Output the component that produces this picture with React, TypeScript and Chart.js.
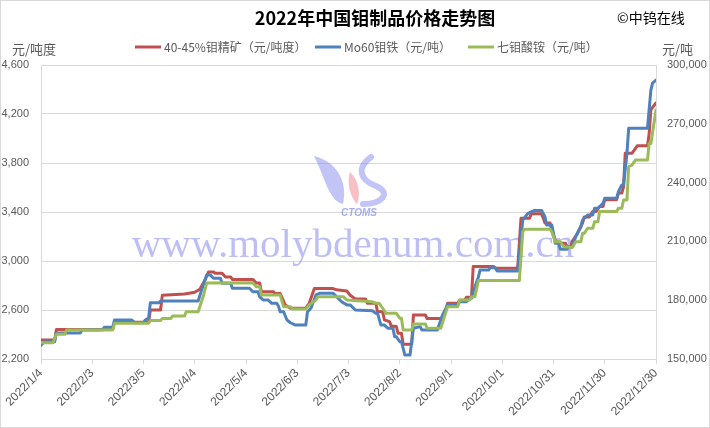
import React, { useEffect, useRef } from "react";
import { Chart, registerables } from "chart.js";

Chart.register(...registerables);

// ---------- data ----------
const chartTitle = "2022年中国钼制品价格走势图";
const copyrightText = "©中钨在线";
const watermarkText = "www.molybdenum.com.cn";
const logoText = "CTOMS";
const leftUnit = "元/吨度";
const rightUnit = "元/吨";
const seriesNames = ["40-45%钼精矿（元/吨度）", "Mo60钼铁（元/吨）", "七钼酸铵（元/吨）"];
const seriesColors = ["#C0504D", "#4F81BD", "#9BBB59"];

// x ticks: days after 2022/1/4
const xTickDays = [0, 30, 60, 90, 120, 150, 180, 210, 240, 270, 300, 330, 360];
const xTickLabels = [
  "2022/1/4", "2022/2/3", "2022/3/5", "2022/4/4", "2022/5/4", "2022/6/3", "2022/7/3",
  "2022/8/2", "2022/9/1", "2022/10/1", "2022/10/31", "2022/11/30", "2022/12/30",
];
const leftTicks = [2200, 2600, 3000, 3400, 3800, 4200, 4600];
const rightTicks = [150000, 180000, 210000, 240000, 270000, 300000];

// 40-45% molybdenum concentrate (left axis, yuan/ton-degree)
const concDays = [0,8,9,42,43,63,64,70,71,84,90,93,96,98,101,102,106,108,111,112,124,126,128,129,136,137,140,143,146,155,157,160,171,173,179,181,184,190,191,196,197,200,201,204,205,208,209,211,212,217,218,225,226,235,237,238,244,245,248,249,252,253,265,266,279,281,286,287,293,294,295,298,299,301,303,307,308,310,311,314,317,318,321,323,325,327,329,330,337,338,340,341,342,346,348,349,355,356,357,360];
const concValues = [2355,2355,2440,2440,2500,2500,2600,2600,2720,2730,2745,2770,2845,2910,2910,2900,2900,2870,2870,2850,2850,2820,2820,2750,2750,2735,2735,2640,2615,2615,2655,2775,2775,2765,2755,2720,2690,2690,2655,2655,2585,2585,2520,2505,2470,2465,2410,2410,2320,2320,2560,2560,2530,2530,2600,2655,2655,2680,2680,2705,2705,2955,2955,2940,2940,3350,3350,3385,3385,3350,3310,3310,3255,3170,3145,3145,3115,3115,3160,3225,3310,3360,3360,3405,3405,3445,3445,3500,3500,3555,3555,3605,3880,3880,3920,3940,3940,4040,4235,4290];

// Mo60 ferro molybdenum (right axis, yuan/ton)
const feMoDays = [0,2,8,9,23,24,36,37,42,43,53,55,60,61,63,64,69,70,92,94,97,99,101,105,106,111,112,122,124,127,128,130,133,135,138,139,140,142,144,146,149,155,156,158,161,163,171,173,176,179,181,184,194,196,197,199,201,203,206,207,208,210,211,213,216,218,222,223,232,233,235,238,244,245,249,251,252,254,256,257,262,263,266,267,279,280,282,285,289,293,295,296,299,300,301,303,304,308,309,311,313,316,317,320,323,324,326,329,330,337,338,340,341,343,344,355,357,358,360];
const feMoValues = [157100,158800,158800,163300,163300,164800,164800,166200,166200,169900,169900,168500,168500,169900,170900,178700,178700,179600,179600,185200,192900,192900,191200,191200,188600,188600,186100,186100,184300,184300,181800,180100,180100,178400,178400,177000,174100,174100,169900,168500,167300,167300,174100,175900,182700,183500,183500,181800,179200,177600,177600,175000,174600,173300,173300,167300,167300,165700,165700,161400,161400,158800,158800,152000,152000,165700,166500,164800,164800,167300,172400,177600,177600,179200,179200,181000,181000,186900,191700,195400,195400,196600,196600,194900,194900,203100,220900,224300,225800,225800,222600,218400,218400,214100,209000,209000,206000,206000,207300,207300,212400,217500,220900,223500,223500,226900,226900,229400,232000,232000,235400,238800,238800,254900,267700,267700,287200,290800,292300];

// Ammonium heptamolybdate (right axis, yuan/ton)
const ahmDays = [0,7,9,14,15,42,43,63,64,70,71,76,77,84,85,92,95,97,124,126,128,129,140,142,146,147,155,157,161,162,177,179,194,196,198,200,202,208,210,211,212,217,218,225,226,234,235,238,244,245,251,252,254,256,280,282,283,298,299,301,304,306,311,313,316,317,318,320,323,324,326,327,337,338,340,341,343,344,346,348,355,356,357,360];
const ahmValues = [158300,158300,162600,162600,164800,164800,168200,168200,169600,169600,170700,170700,171900,171900,174100,174100,182100,188800,188900,186900,186900,182700,182700,176700,176700,175500,175500,177600,180100,181800,181800,180100,179200,178400,178400,175900,173300,173300,170800,170800,164800,164800,167900,167900,165700,165700,168400,176700,176700,180100,180100,181800,181800,190000,190000,214900,216200,216200,214900,209800,209800,207300,206900,209800,209800,214100,214100,216700,216700,220000,220000,225200,225200,226900,226900,231100,231100,248100,249000,251500,251500,260000,260000,277000];

// ---------- styling ----------
const GRID = "#d9d9d9";
const TXT = "#595959";
const CJK = '"Noto Sans CJK SC", "Noto Sans", sans-serif';
const NUM = '"Liberation Sans", Arial, sans-serif';

const toPoints = (days: number[], vals: number[]) => days.map((d, i) => ({ x: d, y: vals[i] }));
const fmt = (v: number) => Number(v).toLocaleString("en-US");

const decorPlugin = {
  id: "decor",
  beforeDraw(chart: any) {
    const { ctx, width, height } = chart;
    ctx.save();
    ctx.fillStyle = "#ffffff";
    ctx.fillRect(0, 0, width, height);
    ctx.restore();
  },
  beforeDatasetsDraw(chart: any) {
    const ctx = chart.ctx as CanvasRenderingContext2D;
    ctx.save();
    // logo: left swoosh
    ctx.fillStyle = "rgba(120,125,235,0.45)";
    ctx.beginPath();
    ctx.moveTo(314, 156);
    ctx.bezierCurveTo(338, 162, 348, 183, 343, 204);
    ctx.bezierCurveTo(329, 201, 326, 180, 314, 156);
    ctx.fill();
    // pink middle
    ctx.fillStyle = "rgba(240,140,150,0.55)";
    ctx.beginPath();
    ctx.moveTo(350, 172);
    ctx.bezierCurveTo(359, 180, 361, 195, 357, 204);
    ctx.bezierCurveTo(351, 198, 346, 184, 350, 172);
    ctx.fill();
    // right swoosh
    ctx.strokeStyle = "rgba(120,125,235,0.45)";
    ctx.lineWidth = 6;
    ctx.lineCap = "round";
    ctx.beginPath();
    ctx.moveTo(371, 157);
    ctx.bezierCurveTo(356, 168, 360, 180, 376, 186);
    ctx.bezierCurveTo(392, 193, 382, 204, 363, 204);
    ctx.stroke();
    ctx.font = 'italic bold 10px "Liberation Sans", sans-serif';
    ctx.fillStyle = "rgba(120,130,235,0.65)";
    ctx.textAlign = "center";
    ctx.textBaseline = "alphabetic";
    ctx.fillText(logoText, 359, 216);
    // watermark
    ctx.font = '41px "Liberation Serif", "DejaVu Serif", serif';
    ctx.fillStyle = "rgba(110,110,235,0.45)";
    ctx.fillText(watermarkText, 353, 257);
    ctx.restore();
  },
  afterDraw(chart: any) {
    const ctx = chart.ctx as CanvasRenderingContext2D;
    ctx.save();
    // title
    ctx.fillStyle = "#000000";
    ctx.textBaseline = "middle";
    ctx.textAlign = "center";
    ctx.font = `bold 18px ${CJK}`;
    ctx.fillText(chartTitle, 375, 18);
    ctx.textAlign = "left";
    ctx.font = `14px ${CJK}`;
    ctx.fillText(copyrightText, 617, 18);
    // units
    ctx.fillStyle = TXT;
    ctx.font = `13px ${CJK}`;
    ctx.fillText(leftUnit, 12, 49);
    ctx.fillText(rightUnit, 662, 49);
    // legend
    const lx = [135, 315, 468];
    ctx.font = `12px ${CJK}`;
    seriesNames.forEach((name, i) => {
      ctx.strokeStyle = seriesColors[i];
      ctx.lineWidth = 3;
      ctx.beginPath();
      ctx.moveTo(lx[i], 47);
      ctx.lineTo(lx[i] + 26, 47);
      ctx.stroke();
      ctx.fillStyle = TXT;
      ctx.fillText(name, lx[i] + 29, 47);
    });
    // outer border
    ctx.strokeStyle = GRID;
    ctx.lineWidth = 1;
    ctx.strokeRect(0.5, 0.5, chart.width - 1, chart.height - 1);
    ctx.restore();
  },
};

export default function App() {
  const ref = useRef<HTMLCanvasElement | null>(null);

  useEffect(() => {
    document.body.style.margin = "0";
    const canvas = ref.current;
    if (!canvas) return;
    const lineDs = (idx: number, data: any[], axis: string, order: number) => ({
      label: seriesNames[idx],
      data,
      yAxisID: axis,
      borderColor: seriesColors[idx],
      backgroundColor: seriesColors[idx],
      borderWidth: 3,
      pointRadius: 0,
      tension: 0,
      fill: false,
      borderJoinStyle: "round" as const,
      borderCapStyle: "round" as const,
      order,
    });
    const chart = new Chart(canvas, {
      type: "line",
      data: {
        datasets: [
          lineDs(0, toPoints(concDays, concValues), "y", 2),
          lineDs(1, toPoints(feMoDays, feMoValues), "y1", 1),
          lineDs(2, toPoints(ahmDays, ahmValues), "y1", 0),
        ],
      },
      options: {
        responsive: false,
        animation: false,
        devicePixelRatio: 1,
        layout: { padding: { top: 65, left: 0, right: 0, bottom: 0 } },
        plugins: {
          legend: { display: false },
          title: { display: false },
          tooltip: { enabled: false },
        },
        scales: {
          x: {
            type: "linear",
            min: xTickDays[0],
            max: xTickDays[xTickDays.length - 1],
            afterBuildTicks: (s: any) => {
              s.ticks = xTickDays.map((v) => ({ value: v }));
            },
            afterFit: (s: any) => {
              s.height = 69;
            },
            ticks: {
              autoSkip: false,
              maxRotation: 45,
              minRotation: 45,
              padding: 2,
              color: TXT,
              font: { family: NUM, size: 12 },
              callback: (v: any) => {
                const i = xTickDays.indexOf(Number(v));
                return i >= 0 ? xTickLabels[i] : "";
              },
            },
            grid: { drawOnChartArea: false, drawTicks: true, tickLength: 5, color: GRID },
            border: { color: GRID },
          },
          y: {
            position: "left",
            min: leftTicks[0],
            max: leftTicks[leftTicks.length - 1],
            afterBuildTicks: (s: any) => {
              s.ticks = leftTicks.map((v) => ({ value: v }));
            },
            afterFit: (s: any) => {
              s.width = 41;
            },
            ticks: {
              padding: 12,
              color: TXT,
              font: { family: NUM, size: 11 },
              callback: (v: any) => fmt(v),
            },
            grid: { color: GRID, drawTicks: false },
            border: { color: GRID },
          },
          y1: {
            position: "right",
            min: rightTicks[0],
            max: rightTicks[rightTicks.length - 1],
            afterBuildTicks: (s: any) => {
              s.ticks = rightTicks.map((v) => ({ value: v }));
            },
            afterFit: (s: any) => {
              s.width = 54;
            },
            ticks: {
              padding: 11,
              color: TXT,
              font: { family: NUM, size: 11 },
              callback: (v: any) => fmt(v),
            },
            grid: { drawOnChartArea: false, drawTicks: false },
            border: { color: GRID },
          },
        },
      },
      plugins: [decorPlugin],
    });
    return () => chart.destroy();
  }, []);

  return (
    <div style={{ position: "absolute", left: 0, top: 0, width: 710, height: 428 }}>
      <canvas ref={ref} width={710} height={428} style={{ display: "block", width: 710, height: 428 }} />
    </div>
  );
}
